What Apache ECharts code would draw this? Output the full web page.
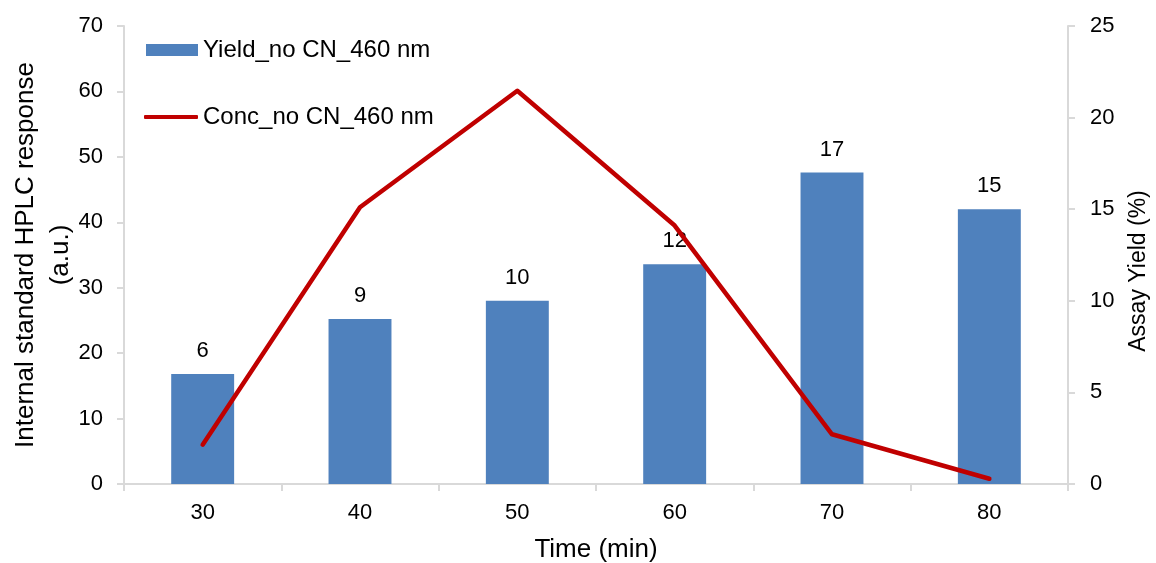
<!DOCTYPE html>
<html>
<head>
<meta charset="utf-8">
<script src="https://cdn.jsdelivr.net/npm/echarts@6/dist/echarts.min.js"></script>
<style>
  html, body { margin: 0; padding: 0; background: #fff; }
  #chart { width: 1156px; height: 563px; }
</style>
</head>
<body>
<div id="chart"></div>
<script>
// Sampling times (min)
const times = ['30', '40', '50', '60', '70', '80'];
// Assay yield (%) per sample, right axis
const yieldValues = [6, 9, 10, 12, 17, 15];
// Internal standard HPLC response (a.u.), left axis
const concValues = [6.0, 42.3, 60.1, 39.5, 7.6, 0.8];

const FONT = '"Liberation Sans", Arial, sans-serif';
const AXIS_GREY = '#D9D9D9';
const BAR_BLUE = '#4F81BD';
const LINE_RED = '#C00000';

const chart = echarts.init(document.getElementById('chart'), null, { renderer: 'canvas' });

const legendText = { fontFamily: FONT, fontSize: 24, color: '#000' };

chart.setOption({
  animation: false,
  backgroundColor: '#ffffff',
  textStyle: { fontFamily: FONT, color: '#000' },
  grid: {
    left: 124, right: 88, top: 26, bottom: 79,
    containLabel: false,
    outerBoundsMode: 'none'
  },
  legend: [
    {
      left: 141,
      top: 33,
      itemWidth: 52,
      itemHeight: 12,
      textStyle: legendText,
      data: [{ name: 'Yield_no CN_460 nm', icon: 'rect' }]
    },
    {
      left: 139,
      top: 100,
      itemWidth: 54,
      itemHeight: 4,
      textStyle: legendText,
      data: [{ name: 'Conc_no CN_460 nm', icon: 'roundRect', itemStyle: { color: LINE_RED } }]
    }
  ],
  // right-hand axis title, set slightly below the axis centre
  graphic: [
    {
      type: 'text',
      x: 1139,
      y: 271,
      rotation: Math.PI / 2,
      style: {
        text: 'Assay Yield (%)',
        fontFamily: FONT,
        fontSize: 23,
        fill: '#000',
        align: 'center',
        verticalAlign: 'middle'
      }
    }
  ],
  xAxis: {
    type: 'category',
    data: times,
    name: 'Time (min)',
    nameLocation: 'middle',
    nameGap: 53,
    nameMoveOverlap: false,
    nameTextStyle: { fontFamily: FONT, fontSize: 26, color: '#000' },
    axisLine: { lineStyle: { color: AXIS_GREY, width: 2 } },
    axisTick: { show: true, length: 7, lineStyle: { color: AXIS_GREY, width: 2 } },
    axisLabel: { fontFamily: FONT, fontSize: 22, color: '#000', margin: 18 },
    splitLine: { show: false }
  },
  yAxis: [
    {
      type: 'value',
      min: 0, max: 70, interval: 10,
      name: 'Internal standard HPLC response\n(a.u.)',
      nameLocation: 'middle',
      nameGap: 46,
      nameMoveOverlap: false,
      nameTextStyle: { fontFamily: FONT, fontSize: 26, color: '#000', lineHeight: 35 },
      axisLine: { show: true, lineStyle: { color: AXIS_GREY, width: 2 } },
      axisTick: { show: true, length: 7, lineStyle: { color: AXIS_GREY, width: 2 } },
      axisLabel: { fontFamily: FONT, fontSize: 22, color: '#000', margin: 21 },
      splitLine: { show: false }
    },
    {
      type: 'value',
      min: 0, max: 25, interval: 5,
      axisLine: { show: true, lineStyle: { color: AXIS_GREY, width: 2 } },
      axisTick: { show: true, length: 7, lineStyle: { color: AXIS_GREY, width: 2 } },
      axisLabel: { fontFamily: FONT, fontSize: 22, color: '#000', margin: 22 },
      splitLine: { show: false }
    }
  ],
  series: [
    {
      name: 'Yield_no CN_460 nm',
      type: 'bar',
      yAxisIndex: 1,
      data: yieldValues,
      barWidth: '40%',
      itemStyle: { color: BAR_BLUE },
      label: {
        show: true,
        position: 'top',
        distance: 12,
        fontFamily: FONT,
        fontSize: 22,
        color: '#000'
      },
      z: 2
    },
    {
      name: 'Conc_no CN_460 nm',
      type: 'line',
      yAxisIndex: 0,
      data: concValues,
      symbol: 'none',
      lineStyle: { color: LINE_RED, width: 4.5, cap: 'round', join: 'round' },
      itemStyle: { color: LINE_RED },
      z: 3
    }
  ]
});
</script>
</body>
</html>
